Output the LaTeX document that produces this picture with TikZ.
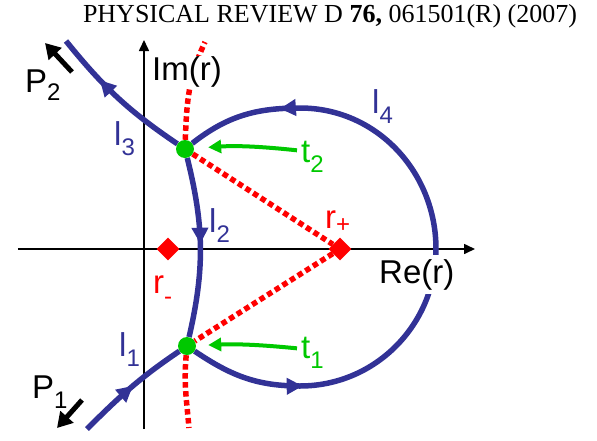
\documentclass[tikz,border=0pt]{standalone}
\usepackage{fontspec}
\setmainfont{Liberation Sans}
\newfontfamily\headfont{Liberation Serif}
\usetikzlibrary{arrows.meta,shapes.geometric,decorations.markings,backgrounds}
\definecolor{flowblue}{RGB}{50,50,150}
\definecolor{saddlegreen}{RGB}{0,200,0}
\newcommand\lowsub[2][10pt]{\raisebox{-#1}{\fontsize{24}{24}\selectfont #2}}
\tikzset{
  flow/.style={flowblue,line width=5.5pt},
  midarrow/.style={postaction={decorate,decoration={markings,
      mark=at position #1 with {\arrow{Triangle[length=16pt,width=16pt]}}}}},
  cut/.style={red,line width=5.5pt,dash pattern=on 5.5pt off 3.5pt},
  pointer/.style={saddlegreen,line width=4pt,-{Triangle[length=13pt,width=13pt]}},
  momentum/.style={line width=5pt,-{Triangle[length=15pt,width=17pt]}},
  axis/.style={line width=1.6pt,-{Triangle[length=11pt,width=10pt]}},
  saddle/.style={circle,fill=saddlegreen,minimum size=18pt,inner sep=0pt},
  pole/.style={diamond,fill=red,minimum size=23pt,inner sep=0pt},
  lab/.style={inner sep=0pt,anchor=base west,font=\fontsize{33}{36}\selectfont}
}
\begin{document}
\begin{tikzpicture}[x=1pt,y=1pt]
\useasboundingbox (-144,-191) rectangle (453,249);
\node[font=\headfont\fontsize{26}{30}\selectfont,anchor=base,inner sep=0pt] (head) at (186,227)
  {PHYSICAL REVIEW D \textbf{76,} 061501(R) (2007)};
% saddle points and branch points
\node[saddle] (t2) at (41,100) {};
\node[saddle] (t1) at (43,-97) {};
\node[pole] (rm) at (24,0) {};
\node[pole] (rp) at (196,0) {};
% free ends
\coordinate (inP1) at (-57,-180);
\coordinate (outP2) at (-78,208);
\coordinate (cutTop) at (61,207);
\coordinate (cutBot) at (45,-179);
\coordinate (xl) at (-126,0); \coordinate (xr) at (331,0);
\coordinate (yb) at (0,-180); \coordinate (yt) at (0,209);
\begin{pgfonlayer}{background}
\draw[axis] (xl) -- (xr);
\draw[axis] (yb) -- (yt);
\draw[flow,midarrow=0.52] (inP1) to[out=45,in=-146] (t1);
\draw[flow,midarrow=0.48] (t2) to[out=-76,in=77] (t1);
\draw[flow,midarrow=0.66] (t2) to[out=146,in=-51] (outP2);
\draw[flow,midarrow=0.175,midarrow=0.855] (t1) to[out=-34,in=180] (156,-137)
  to[out=0,in=-90] (292,0) to[out=90,in=0] (156,141) to[out=180,in=38] (t2);
\draw[cut] (t2) to[out=88,in=-115] (cutTop);
\draw[cut] (t1) to[out=-95,in=95] (cutBot);
\draw[cut] (t2) -- (rp);
\draw[cut] (rp) -- (t1);
\end{pgfonlayer}
% labels
\node[lab,fill=white] (imr) at (8,169) {Im(r)};
\node[lab,fill=white,inner sep=4pt] (rer) at (231,-34) {Re(r)};
\node[lab] (P2) at (-119,157) {P\lowsub[8pt]{2}};
\node[lab] (P1) at (-112,-149) {P\lowsub{1}};
\node[lab,text=flowblue] (l1) at (-25,-107) {l\lowsub{1}};
\node[lab,text=flowblue] (l2) at (65,17) {l\lowsub{2}};
\node[lab,text=flowblue] (l3) at (-30,104) {l\lowsub{3}};
\node[lab,text=flowblue] (l4) at (228,136) {l\lowsub{4}};
\node[lab,text=saddlegreen] (lt2) at (157,87) {t\lowsub{2}};
\node[lab,text=saddlegreen] (lt1) at (157,-109) {t\lowsub{1}};
\node[lab,text=red] (lrp) at (181,21) {r\lowsub[4pt]{+}};
\node[lab,text=red] (lrm) at (9,-44) {r\lowsub[11pt]{-}};
% pointers and momenta
\draw[pointer,shorten >=14pt] ([shift={(-4pt,6pt)}]lt2.west) to[bend right=5] (t2);
\draw[pointer,shorten >=12pt] ([shift={(-4pt,4pt)}]lt1.west) to[bend right=4] (t1);
\coordinate (p2tail) at (-72,177); \coordinate (p2tip) at (-99,206);
\coordinate (p1tail) at (-62,-151); \coordinate (p1tip) at (-87,-179);
\draw[momentum] (p2tail) -- (p2tip);
\draw[momentum] (p1tail) -- (p1tip);
\end{tikzpicture}
\end{document}
